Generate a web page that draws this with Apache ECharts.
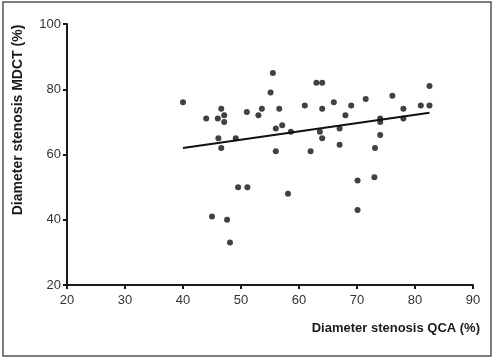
<!DOCTYPE html>
<html>
<head>
<meta charset="utf-8">
<script src="https://cdn.jsdelivr.net/npm/echarts@6/dist/echarts.min.js"></script>
<style>
  html, body { margin: 0; padding: 0; background: #fff; }
  #chart { width: 496px; height: 360px; }
</style>
</head>
<body>
<div id="chart"></div>
<script>
// QCA (x) vs MDCT (y)
const qca = [40, 44, 45, 46, 46.6, 47.1, 47.1, 46.1, 46.6, 47.6, 48.1, 49.1, 49.5, 51, 51.1,
    53, 53.6, 55.1, 55.5, 56.6, 56, 57.1, 56, 58.1, 58.6, 61, 62, 63, 64, 64, 63.6, 64,
    66, 67, 67, 68, 69, 70.1, 70.1, 71.5, 73.1, 73, 74, 74, 74, 76.1, 78, 78, 81, 82.5, 82.5];
const mdct = [76, 71, 41, 71, 74, 72, 70, 65, 62, 40, 33, 65, 50, 73, 50,
    72, 74, 79, 85, 74, 68, 69, 61, 48, 67, 75, 61, 82, 82, 74, 67, 65,
    76, 68, 63, 72, 75, 52, 43, 77, 62, 53, 71, 70, 66, 78, 74, 71, 75, 75, 81];
const trendX = [40, 82.5];
const trendY = [62, 72.8];
const xTicks = [20, 30, 40, 50, 60, 70, 80, 90];
const yTicks = [20, 40, 60, 80, 100];

const points = qca.map((x, i) => [x, mdct[i]]);
const trend = trendX.map((x, i) => [x, trendY[i]]);

const chart = echarts.init(document.getElementById('chart'));
const font = 'Liberation Sans, Arial, sans-serif';

const option = {
    animation: false,
    grid: { left: 67, right: 23, top: 24, bottom: 75 },
    xAxis: {
        type: 'value',
        min: xTicks[0],
        max: xTicks[xTicks.length - 1],
        interval: 10,
        axisLine: { lineStyle: { color: '#1a1a1a', width: 2 } },
        axisTick: { show: true, length: 4, lineStyle: { color: '#1a1a1a', width: 2 } },
        axisLabel: { color: '#333', fontSize: 13, fontFamily: font, margin: 9 },
        splitLine: { show: false }
    },
    yAxis: {
        type: 'value',
        min: yTicks[0],
        max: yTicks[yTicks.length - 1],
        interval: 20,
        axisLine: { show: true, lineStyle: { color: '#1a1a1a', width: 2 } },
        axisTick: { show: true, length: 4, lineStyle: { color: '#1a1a1a', width: 2 } },
        axisLabel: { color: '#333', fontSize: 13, fontFamily: font, margin: 6 },
        splitLine: { show: false }
    },
    graphic: [
        {
            type: 'rect',
            shape: { x: 3, y: 2, width: 488, height: 354 },
            style: { fill: 'none', stroke: '#555', lineWidth: 1.5 },
            silent: true
        },
        {
            type: 'text',
            x: 480, y: 322,
            style: {
                text: 'Diameter stenosis QCA (%)',
                fill: '#1a1a1a',
                font: 'bold 13px ' + font,
                textAlign: 'right'
            }
        },
        {
            type: 'text',
            x: 11, y: 120,
            rotation: Math.PI / 2,
            style: {
                text: 'Diameter stenosis MDCT (%)',
                fill: '#1a1a1a',
                font: 'bold 14px ' + font,
                textAlign: 'center',
                textVerticalAlign: 'top'
            }
        }
    ],
    series: [
        {
            type: 'scatter',
            data: points,
            symbol: 'circle',
            symbolSize: 6,
            itemStyle: { color: '#111' }
        },
        {
            type: 'line',
            data: trend,
            symbol: 'none',
            lineStyle: { color: '#111', width: 2 }
        }
    ]
};
chart.setOption(option);
</script>
</body>
</html>
